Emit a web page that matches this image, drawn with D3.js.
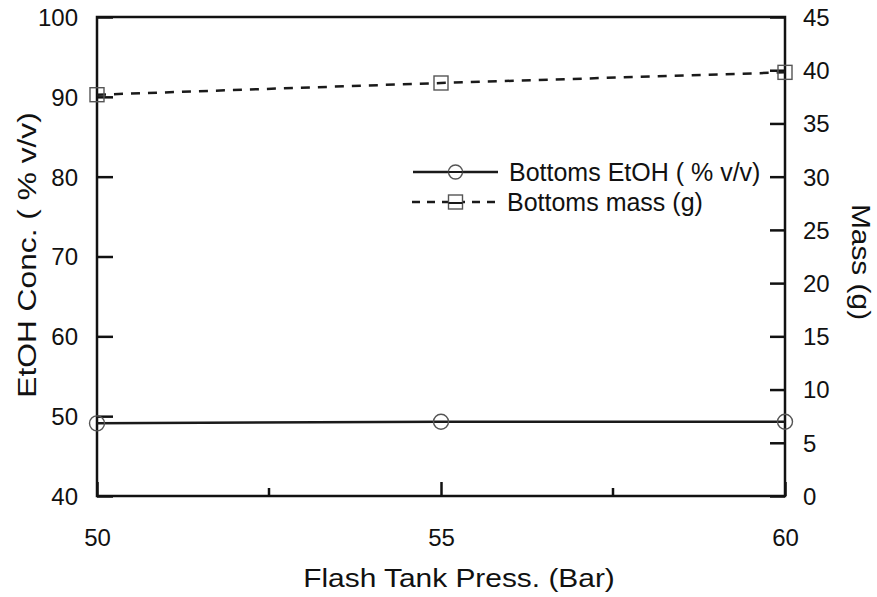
<!DOCTYPE html>
<html>
<head>
<meta charset="utf-8">
<script src="https://cdn.jsdelivr.net/npm/d3@7"></script>
<style>
  html, body { margin: 0; padding: 0; background: #fff; }
  svg text { font-family: "Liberation Sans", Arial, sans-serif; fill: #111; }
</style>
</head>
<body>
<svg id="chart" width="877" height="597"></svg>
<script>
// Flash tank pressure (bar)
const pressures = [50, 55, 60];
// Bottoms ethanol concentration (% v/v), left axis
const etohConc = [49.1, 49.3, 49.3];
// Bottoms mass (g), right axis
const bottomsMass = [37.7, 38.8, 39.8];

const xTicksMajor = [50, 55, 60];
const xTicksMinor = [52.5, 57.5];
const leftTicks = [40, 50, 60, 70, 80, 90, 100];
const rightTicks = [0, 5, 10, 15, 20, 25, 30, 35, 40, 45];

const svg = d3.select("#chart");
const m = { left: 97, right: 785, top: 17, bottom: 496 };

const x = d3.scaleLinear().domain([50, 60]).range([m.left, m.right]);
const yL = d3.scaleLinear().domain([40, 100]).range([m.bottom, m.top]);
const yR = d3.scaleLinear().domain([0, 45]).range([m.bottom, m.top]);

const ink = "#111";
const tickFont = 24;

// Bottom axis: major ticks pointing inward, labels below
const xAxis = d3.axisBottom(x).tickValues(xTicksMajor).tickSize(-14).tickFormat(d3.format("d"));
const gx = svg.append("g").attr("transform", `translate(0,${m.bottom})`).call(xAxis);
gx.selectAll("text").attr("font-size", tickFont).attr("dy", "0.35em").attr("y", 42);

// minor inward ticks on the bottom axis
svg.append("g").selectAll("line").data(xTicksMinor).join("line")
  .attr("x1", d => x(d)).attr("x2", d => x(d))
  .attr("y1", m.bottom).attr("y2", m.bottom - 8)
  .attr("stroke", ink).attr("stroke-width", 2.5);

// Left axis
const gl = svg.append("g").attr("transform", `translate(${m.left},0)`)
  .call(d3.axisLeft(yL).tickValues(leftTicks).tickSize(-16));
gl.selectAll("text").attr("font-size", tickFont).attr("x", -19).attr("dy", "0.35em");

// Right axis
const gr = svg.append("g").attr("transform", `translate(${m.right},0)`)
  .call(d3.axisRight(yR).tickValues(rightTicks).tickSize(-15));
gr.selectAll("text").attr("font-size", tickFont).attr("x", 18).attr("dy", "0.35em");

[gx, gl, gr].forEach(g => {
  g.select(".domain").remove();
  g.selectAll(".tick line").attr("stroke", ink).attr("stroke-width", 2.5);
});

// Plot frame
svg.append("rect")
  .attr("x", m.left).attr("y", m.top)
  .attr("width", m.right - m.left).attr("height", m.bottom - m.top)
  .attr("fill", "none").attr("stroke", ink).attr("stroke-width", 2.5);

// Ethanol concentration: solid line with open circles
svg.append("path")
  .datum(pressures.map((p, i) => [p, etohConc[i]]))
  .attr("fill", "none").attr("stroke", "#1a1a1a").attr("stroke-width", 2.5)
  .attr("d", d3.line().x(d => x(d[0])).y(d => yL(d[1])));
svg.append("g").selectAll("circle").data(pressures).join("circle")
  .attr("cx", d => x(d)).attr("cy", (d, i) => yL(etohConc[i])).attr("r", 7.5)
  .attr("fill", "none").attr("stroke", "#555").attr("stroke-width", 1.4);

// Bottoms mass: dashed line with open squares
svg.append("path")
  .datum(pressures.map((p, i) => [p, bottomsMass[i]]))
  .attr("fill", "none").attr("stroke", "#1a1a1a").attr("stroke-width", 2.5)
  .attr("stroke-dasharray", "9,8")
  .attr("d", d3.line().x(d => x(d[0])).y(d => yR(d[1])));
const sq = 14;
svg.append("g").selectAll("rect").data(pressures).join("rect")
  .attr("x", d => x(d) - sq / 2).attr("y", (d, i) => yR(bottomsMass[i]) - sq / 2)
  .attr("width", sq).attr("height", sq)
  .attr("fill", "none").attr("stroke", "#555").attr("stroke-width", 1.4);

// Legend
const leg = svg.append("g");
const lx0 = 413, lx1 = 498, lxm = (lx0 + lx1) / 2;
const row1 = 172, row2 = 202;
leg.append("line").attr("x1", lx0).attr("x2", lx1).attr("y1", row1).attr("y2", row1)
  .attr("stroke", "#1a1a1a").attr("stroke-width", 2.5);
leg.append("circle").attr("cx", lxm).attr("cy", row1).attr("r", 7)
  .attr("fill", "#fff").attr("stroke", "#555").attr("stroke-width", 1.4);
leg.append("line").attr("x1", lxm - 7).attr("x2", lxm + 7).attr("y1", row1).attr("y2", row1)
  .attr("stroke", "#1a1a1a").attr("stroke-width", 2);
leg.append("text").attr("x", 509).attr("y", row1).attr("dy", "0.35em")
  .attr("font-size", 25).text("Bottoms EtOH ( % v/v)");
leg.append("line").attr("x1", lx0 - 1).attr("x2", lx1).attr("y1", row2).attr("y2", row2)
  .attr("stroke", "#1a1a1a").attr("stroke-width", 2.5).attr("stroke-dasharray", "8,7");
leg.append("rect").attr("x", lxm - 7).attr("y", row2 - 7).attr("width", 14).attr("height", 14)
  .attr("fill", "#fff").attr("stroke", "#555").attr("stroke-width", 1.4);
leg.append("line").attr("x1", lxm - 7).attr("x2", lxm + 7).attr("y1", row2 + 1).attr("y2", row2 + 1)
  .attr("stroke", "#1a1a1a").attr("stroke-width", 2);
leg.append("text").attr("x", 507).attr("y", row2).attr("dy", "0.35em")
  .attr("font-size", 25).text("Bottoms mass (g)");

// Axis titles (slightly widened lettering)
svg.append("text").attr("transform", `translate(459,578) scale(1.15,1)`)
  .attr("dy", "0.35em").attr("text-anchor", "middle").attr("font-size", 26).text("Flash Tank Press. (Bar)");
svg.append("text").attr("transform", `translate(27,255) rotate(-90) scale(1.22,1)`)
  .attr("dy", "0.35em").attr("text-anchor", "middle").attr("font-size", 26).text("EtOH Conc. ( % v/v)");
svg.append("text").attr("transform", `translate(861,262) rotate(90) scale(1.15,1)`)
  .attr("dy", "0.35em").attr("text-anchor", "middle").attr("font-size", 26).text("Mass (g)");
</script>
</body>
</html>
